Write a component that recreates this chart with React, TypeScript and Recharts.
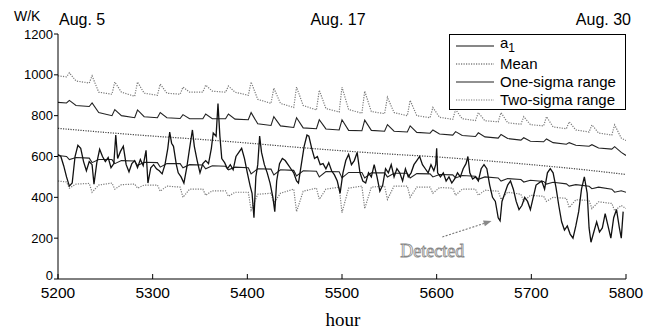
import React from 'react';
import { LineChart, Line, XAxis, YAxis, ReferenceLine } from 'recharts';

const W = 663;
const H = 331;
const SANS = 'Liberation Sans, Arial, sans-serif';
const SERIF = 'Liberation Serif, Times New Roman, serif';

const xTicks = [5200, 5300, 5400, 5500, 5600, 5700, 5800];
const yTicks = [0, 200, 400, 600, 800, 1000, 1200];
const dateLabels = ['Aug. 5', 'Aug. 17', 'Aug. 30'];
const legendNames = ['a', 'Mean', 'One-sigma range', 'Two-sigma range'];

// measured signal a1
const a1Hours = [
  5200, 5203, 5206, 5209, 5212, 5215, 5218, 5221, 5224, 5227,
  5230, 5233, 5236, 5238, 5241, 5244, 5247, 5250, 5253, 5256,
  5259, 5261, 5263, 5266, 5269, 5272, 5275, 5278, 5281, 5284,
  5287, 5290, 5293, 5295, 5298, 5301, 5304, 5307, 5310, 5313,
  5316, 5318, 5320, 5322, 5325, 5327, 5330, 5333, 5336, 5339,
  5342, 5344, 5347, 5350, 5353, 5356, 5359, 5362, 5364, 5367,
  5369, 5371, 5373, 5376, 5379, 5382, 5385, 5388, 5391, 5394,
  5397, 5400, 5403, 5405, 5407, 5409, 5411, 5413, 5415, 5418,
  5421, 5424, 5427, 5429, 5431, 5434, 5437, 5440, 5443, 5446,
  5449, 5452, 5454, 5457, 5460, 5463, 5465, 5468, 5471, 5474,
  5477, 5480, 5483, 5486, 5489, 5492, 5495, 5498, 5501, 5504,
  5507, 5510, 5513, 5516, 5519, 5522, 5525, 5528, 5531, 5534,
  5537, 5540, 5543, 5546, 5549, 5552, 5555, 5558, 5561, 5564,
  5567, 5570, 5573, 5576, 5579, 5582, 5585, 5588, 5591, 5594,
  5597, 5599, 5600, 5601, 5604, 5607, 5610, 5613, 5616, 5619,
  5622, 5625, 5628, 5631, 5633, 5635, 5638, 5641, 5644, 5647,
  5650, 5653, 5656, 5659, 5662, 5665, 5667, 5669, 5672, 5675,
  5678, 5681, 5684, 5687, 5690, 5693, 5696, 5699, 5702, 5705,
  5708, 5711, 5714, 5717, 5720, 5723, 5726, 5729, 5732, 5735,
  5738, 5741, 5744, 5747, 5750, 5753, 5756, 5759, 5761, 5763,
  5766, 5769, 5772, 5775, 5778, 5781, 5784, 5787, 5790, 5793,
  5795, 5797,
];
const a1Values = [
  610, 600, 555, 500, 455, 470, 600, 655, 640, 575,
  530, 575, 560, 465, 570, 635, 600, 575, 595, 545,
  565, 705, 590, 625, 650, 560, 525, 565, 580, 545,
  585, 555, 630, 470, 545, 560, 540, 530, 515, 560,
  640, 720, 665, 650, 560, 520, 500, 470, 545, 640,
  730, 650, 580, 520, 565, 580, 565, 640, 715, 700,
  860, 700, 590, 570, 540, 560, 535, 600, 620, 640,
  590, 520, 455, 420, 300, 500, 560, 700, 620, 560,
  520, 470, 400, 330, 480, 565, 590, 580, 560, 540,
  520, 480, 470, 560, 650, 705, 700, 640, 590, 600,
  560, 565, 540, 570, 530, 510, 480, 420, 520, 580,
  610, 560, 580, 620, 520, 480, 470, 520, 500, 560,
  500, 430, 460, 540, 520, 560, 500, 540, 520, 480,
  540, 500, 520, 560, 580, 600, 560, 540, 520, 560,
  530, 560, 640, 520, 500, 520, 480, 500, 470, 490,
  520, 500, 540, 565, 600, 520, 490, 500, 480, 540,
  560, 540, 460, 400, 380, 300, 285, 380, 420, 460,
  480, 440, 380, 340, 360, 400, 380, 340, 400, 460,
  470, 480, 440, 520, 540, 520, 450, 360, 280, 240,
  260, 220, 200, 260, 330, 440, 500, 420, 250, 180,
  230, 280, 230, 250, 320, 260, 200, 300, 340, 250,
  200, 330,
];

// mean
const meanHours = [5200, 5250, 5300, 5350, 5400, 5450, 5500, 5550, 5600, 5650, 5700, 5750, 5800];
const meanValues = [738, 718, 700, 684, 666, 646, 628, 612, 598, 580, 560, 538, 512];

// sigma bands (daily spikes)
const bandHours = [
  5200,
  5209, 5212, 5219, 5233, 5236, 5243, 5257, 5260, 5267, 5281, 5284, 5291,
  5305, 5308, 5315, 5329, 5332, 5339, 5353, 5356, 5363, 5377, 5380, 5387,
  5401, 5404, 5411, 5425, 5428, 5435, 5449, 5452, 5459, 5473, 5476, 5483,
  5497, 5500, 5507, 5521, 5524, 5531, 5545, 5548, 5555, 5569, 5572, 5579,
  5593, 5596, 5603, 5617, 5620, 5627, 5641, 5644, 5651, 5665, 5668, 5675,
  5689, 5692, 5699, 5713, 5716, 5723, 5737, 5740, 5747, 5761, 5764, 5771,
  5785, 5788, 5795,
  5800,
];
const upper2 = [
  995,
  990, 1010, 970, 960, 995, 915, 905, 965, 915, 895, 965, 910,
  900, 955, 910, 905, 940, 915, 915, 950, 920, 915, 945, 915,
  900, 965, 880, 860, 935, 860, 840, 940, 850, 828, 925, 835,
  818, 940, 830, 812, 920, 820, 810, 890, 815, 800, 875, 800,
  790, 840, 792, 782, 830, 785, 776, 815, 775, 770, 815, 765,
  758, 795, 756, 750, 795, 745, 736, 770, 730, 720, 755, 715,
  705, 755, 690,
  678,
];
const upper1 = [
  865,
  862, 875, 850, 845, 862, 815, 800, 830, 800, 790, 828, 795,
  790, 815, 790, 786, 805, 785, 785, 808, 785, 785, 808, 783,
  780, 815, 760, 752, 795, 750, 742, 790, 740, 736, 780, 735,
  730, 780, 728, 726, 778, 728, 724, 756, 724, 720, 750, 718,
  714, 730, 710, 705, 722, 703, 698, 716, 696, 690, 708, 688,
  680, 692, 675, 672, 686, 668, 660, 668, 655, 650, 658, 642,
  636, 648, 620,
  605,
];
const lower1 = [
  605,
  600, 585, 595, 592, 570, 585, 585, 565, 580, 578, 556, 572,
  570, 548, 566, 565, 545, 560, 558, 540, 555, 552, 535, 548,
  545, 515, 540, 538, 510, 535, 532, 505, 530, 528, 500, 526,
  525, 495, 522, 522, 495, 520, 520, 500, 518, 518, 495, 516,
  515, 500, 512, 510, 495, 507, 503, 488, 500, 495, 480, 492,
  487, 475, 484, 478, 465, 474, 466, 455, 462, 454, 442, 450,
  440, 425, 432,
  425,
];
const lower2 = [
  480,
  475, 445, 465, 468, 425, 460, 470, 440, 462, 465, 445, 460,
  460, 430, 455, 450, 400, 440, 440, 410, 432, 432, 405, 425,
  425, 338, 415, 420, 372, 420, 440, 330, 430, 445, 390, 440,
  450, 325, 445, 455, 345, 450, 455, 390, 455, 455, 400, 450,
  450, 420, 448, 445, 410, 440, 440, 410, 435, 430, 390, 425,
  415, 380, 410, 405, 380, 400, 395, 350, 388, 385, 345, 378,
  370, 335, 360,
  345,
];

const a1Data = a1Hours.map((h, i) => ({ h, v: a1Values[i] }));
const meanData = meanHours.map((h, i) => ({ h, v: meanValues[i] }));
const bandData = bandHours.map((h, i) => ({ h, u2: upper2[i], u1: upper1[i], l1: lower1[i], l2: lower2[i] }));

const arrowStart = { x: 5606, y: 206 };
const arrowEnd = { x: 5658, y: 284 };

const ArrowShape = (props: any) => {
  const { x1, y1, x2, y2 } = props;
  if ([x1, y1, x2, y2].some((v) => typeof v !== 'number' || isNaN(v))) return null;
  const ang = Math.atan2(y2 - y1, x2 - x1);
  const L = 8;
  const Wd = 3;
  const bx = x2 - L * Math.cos(ang);
  const by = y2 - L * Math.sin(ang);
  const p1x = bx + Wd * Math.sin(ang);
  const p1y = by - Wd * Math.cos(ang);
  const p2x = bx - Wd * Math.sin(ang);
  const p2y = by + Wd * Math.cos(ang);
  return (
    <g>
      <line x1={x1} y1={y1} x2={bx} y2={by} stroke="#777" strokeWidth={1.1} strokeDasharray="2 1.5" />
      <polygon points={`${x2},${y2} ${p1x},${p1y} ${p2x},${p2y}`} fill="#888" />
      <text x={x1 - 10} y={y1 + 20} textAnchor="middle" fontFamily={SERIF} fontSize={18} fill="#fff" stroke="#888" strokeWidth={0.8}>
        Detected
      </text>
    </g>
  );
};

const axisTick = { fill: '#000', fontSize: 15.5, fontFamily: SANS };

const YTick = (props: any) => {
  const { x, y, payload } = props;
  const shift = payload.value === 0 ? -4 : 0;
  return (
    <text x={x} y={y + shift} dy="0.35em" textAnchor="end" fontFamily={SANS} fontSize={13} fill="#000">
      {payload.value}
    </text>
  );
};

export default function App() {
  const legendRows = [46, 64, 82, 100];
  return (
    <div style={{ position: 'absolute', left: 0, top: 0, width: W, height: H, background: '#fff' }}>
      <LineChart width={W} height={H} margin={{ top: 34, right: 37, bottom: 0, left: 0 }}>
        <XAxis
          xAxisId="b"
          type="number"
          dataKey="h"
          domain={[5200, 5800]}
          ticks={xTicks}
          interval={0}
          allowDataOverflow
          height={52}
          tickSize={-5}
          tickMargin={13}
          stroke="#000"
          tick={axisTick}
        />
        <XAxis
          xAxisId="t"
          orientation="top"
          type="number"
          dataKey="h"
          domain={[5200, 5800]}
          ticks={xTicks}
          interval={0}
          allowDataOverflow
          height={0}
          tickSize={-5}
          tickFormatter={() => ''}
          stroke="#000"
        />
        <YAxis
          yAxisId="l"
          type="number"
          domain={[0, 1200]}
          ticks={yTicks}
          interval={0}
          allowDataOverflow
          width={58}
          tickSize={4}
          tickMargin={1}
          stroke="#000"
          tick={<YTick />}
        />
        <YAxis
          yAxisId="r"
          orientation="right"
          type="number"
          domain={[0, 1200]}
          ticks={yTicks}
          interval={0}
          allowDataOverflow
          width={0}
          tickSize={-5}
          tickFormatter={() => ''}
          stroke="#000"
        />
        <Line xAxisId="b" yAxisId="l" data={bandData} dataKey="u2" type="linear" dot={false} stroke="#7a7a7a" strokeWidth={1.2} strokeDasharray="1.2 1.3" isAnimationActive={false} />
        <Line xAxisId="b" yAxisId="l" data={bandData} dataKey="l2" type="linear" dot={false} stroke="#7a7a7a" strokeWidth={1.2} strokeDasharray="1.2 1.3" isAnimationActive={false} />
        <Line xAxisId="b" yAxisId="l" data={meanData} dataKey="v" type="monotone" dot={false} stroke="#444" strokeWidth={1.2} strokeDasharray="1.2 1.3" isAnimationActive={false} />
        <Line xAxisId="b" yAxisId="l" data={bandData} dataKey="u1" type="linear" dot={false} stroke="#222" strokeWidth={1.1} isAnimationActive={false} />
        <Line xAxisId="b" yAxisId="l" data={bandData} dataKey="l1" type="linear" dot={false} stroke="#222" strokeWidth={1.1} isAnimationActive={false} />
        <Line xAxisId="b" yAxisId="l" data={a1Data} dataKey="v" type="linear" dot={false} stroke="#111" strokeWidth={1.3} isAnimationActive={false} />
        <ReferenceLine
          xAxisId="b"
          yAxisId="l"
          segment={[arrowStart, arrowEnd]}
          shape={ArrowShape}
          ifOverflow="visible"
        />
      </LineChart>
      <svg width={W} height={H} style={{ position: 'absolute', left: 0, top: 0, pointerEvents: 'none' }}>
        <text x={14} y={21} fontFamily={SANS} fontSize={14} fill="#000">W/K</text>
        <text x={59} y={25} fontFamily={SANS} fontSize={16} fill="#000">{dateLabels[0]}</text>
        <text x={338} y={25} textAnchor="middle" fontFamily={SANS} fontSize={16} fill="#000">{dateLabels[1]}</text>
        <text x={631} y={25} textAnchor="end" fontFamily={SANS} fontSize={16} fill="#000">{dateLabels[2]}</text>
        <text x={343} y={326} textAnchor="middle" fontFamily={SERIF} fontSize={19} fill="#000">hour</text>
        <rect x={449.5} y={34.5} width={176} height={75} fill="#fff" stroke="#000" strokeWidth={1} />
        <line x1={456} x2={494} y1={legendRows[0]} y2={legendRows[0]} stroke="#111" strokeWidth={1.2} />
        <line x1={456} x2={494} y1={legendRows[1]} y2={legendRows[1]} stroke="#444" strokeWidth={1.2} strokeDasharray="1.2 1.3" />
        <line x1={456} x2={494} y1={legendRows[2]} y2={legendRows[2]} stroke="#222" strokeWidth={1.1} />
        <line x1={456} x2={494} y1={legendRows[3]} y2={legendRows[3]} stroke="#7a7a7a" strokeWidth={1.2} strokeDasharray="1.2 1.3" />
        <text x={500} y={legendRows[0] + 2} fontFamily={SANS} fontSize={15} fill="#000">
          {legendNames[0]}
          <tspan fontSize={12} dy={4}>1</tspan>
        </text>
        <text x={500} y={legendRows[1] + 5} fontFamily={SANS} fontSize={15} fill="#000">{legendNames[1]}</text>
        <text x={500} y={legendRows[2] + 5} fontFamily={SANS} fontSize={15} fill="#000">{legendNames[2]}</text>
        <text x={500} y={legendRows[3] + 5} fontFamily={SANS} fontSize={15} fill="#000">{legendNames[3]}</text>
      </svg>
    </div>
  );
}
